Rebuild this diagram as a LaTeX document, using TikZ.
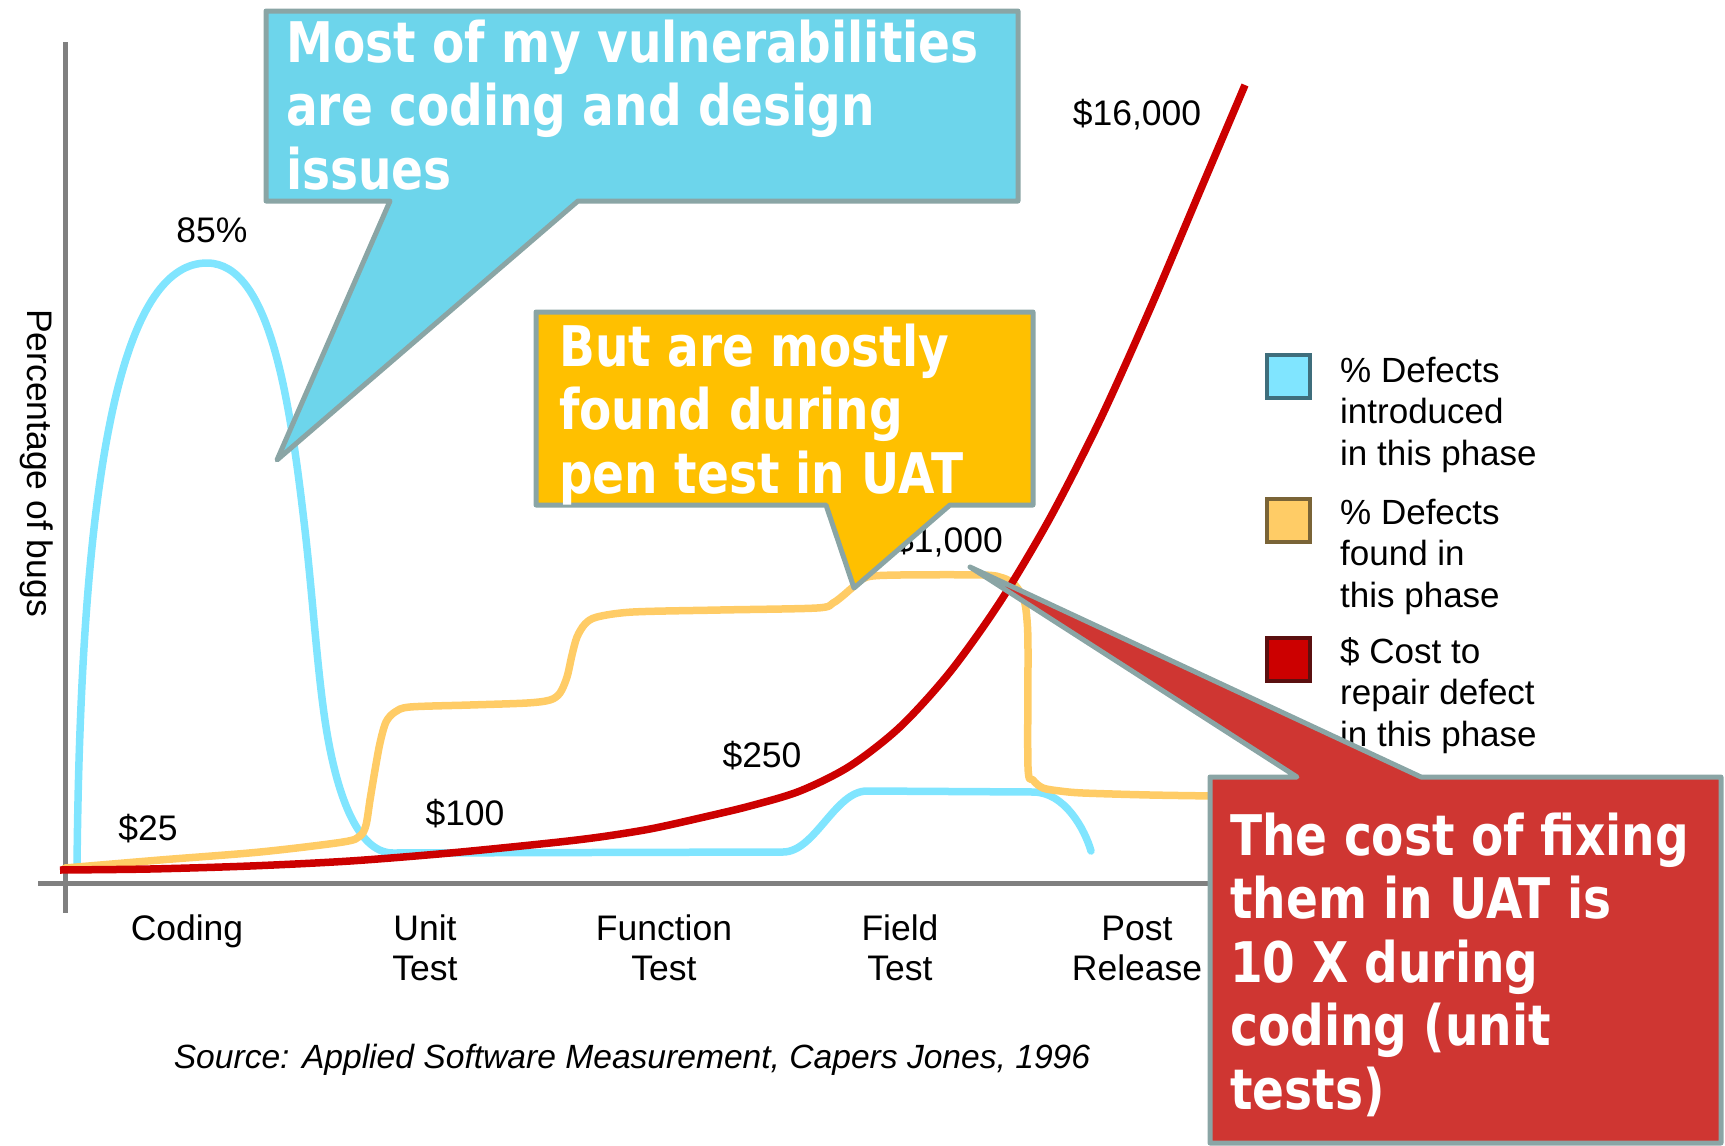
\documentclass[tikz,border=0pt]{standalone}
\usepackage{fontspec}
\setmainfont{Liberation Sans}
\newfontfamily\calloutfont{DejaVu Sans}[FakeStretch=0.84]

\definecolor{axisgray}{HTML}{808080}
\definecolor{introcyan}{HTML}{80E5FF}
\definecolor{foundamber}{HTML}{FFCC66}
\definecolor{costred}{HTML}{CC0000}
\definecolor{introedge}{HTML}{3F6E7C}
\definecolor{foundedge}{HTML}{7A6437}
\definecolor{costedge}{HTML}{5A1010}
\definecolor{calloutedge}{HTML}{8AA5A5}
\definecolor{calloutcyan}{HTML}{6DD5EB}
\definecolor{calloutamber}{HTML}{FFC000}
\definecolor{calloutred}{HTML}{CF3632}

% two centred lines sharing one baseline grid
\newcommand\centredlines[1]{\vtop{\halign{\hfil##\hfil\cr#1\crcr}}}

\tikzset{
  axisline/.style={draw=axisgray, line width=5pt},
  curve/.style={line width=7.5pt, line join=round, line cap=round},
  chartlabel/.style={inner sep=0pt, font=\fontsize{35.5}{40}\selectfont},
  legendtext/.style={inner sep=0pt, anchor=base west, font=\fontsize{35}{41.5}\selectfont},
  legendkey/.style={draw, line width=4pt, minimum size=43pt, inner sep=0pt},
  calloutshape/.style={draw=calloutedge, line width=5pt, line join=round},
  callouttext/.style={anchor=base west, inner sep=0pt, text=white,
    font=\calloutfont\bfseries\fontsize{56}{63.5}\selectfont},
}

\begin{document}
\begin{tikzpicture}[x=1pt, y=-1pt]
\useasboundingbox (0,0) rectangle (1725,1146);

% axes
\coordinate (yTop) at (65,42);
\coordinate (yBottom) at (65,913);
\coordinate (xLeft) at (38,883);
\coordinate (xRight) at (1230,883);
\draw[axisline] (yTop) -- (yBottom);
\draw[axisline] (xLeft) -- (xRight);

% % defects introduced per phase
\draw[curve, introcyan]
  (77,868) .. controls (81,430) and (130,263) .. (207,263)
  .. controls (270,263) and (290,400) .. (305,530)
  .. controls (313,600) and (318,680) .. (327,733)
  .. controls (336,786) and (355,853) .. (393,853)
  -- (783,852)
  .. controls (815,852) and (835,791) .. (867,791)
  -- (1033,792)
  .. controls (1065,792) and (1085,830) .. (1091,851);

% % defects found per phase
\draw[curve, foundamber] plot[smooth, tension=0.5] coordinates {
  (65,868) (160,860) (260,852) (343,842) (360,836) (366,825) (370,800)
  (375,770) (380,743) (386,722) (395,712) (410,707) (470,705) (527,703)
  (550,700) (560,693) (567,677) (572,655) (577,637) (585,624) (597,617)
  (633,612) (720,610) (817,608) (833,603) (845,594) (853,587) (867,577)
  (900,575) (983,575) (1003,578) (1015,585) (1024,600) (1027,620)
  (1028,650) (1028,767) (1033,780) (1043,788) (1060,791) (1083,793)
  (1150,795) (1215,796)};

% cost to repair
\draw[curve, costred, line cap=butt] plot[smooth, tension=0.5] coordinates {
  (60,870) (150,869) (250,866) (350,861) (450,853) (550,843) (600,837)
  (650,829) (700,818) (750,806) (800,791) (850,766) (900,727) (950,672)
  (1000,602) (1050,518) (1100,420) (1150,309) (1200,191) (1245,85)};

% value labels
\node[chartlabel, anchor=base] (pctPeak) at (212,242) {85\%};
\node[chartlabel, anchor=base] (costCoding) at (148,840) {\$25};
\node[chartlabel, anchor=base] (costUnit) at (465,825) {\$100};
\node[chartlabel, anchor=base] (costFunction) at (762,767) {\$250};
\node[chartlabel, anchor=base east] (costField) at (1003,552) {\$1,000};
\node[chartlabel, anchor=base] (costPost) at (1137,125) {\$16,000};

% axis titles
\node[chartlabel, rotate=-90] (yTitle) at (37,463) {Percentage of bugs};
\node[chartlabel, anchor=base] (phCoding) at (187,940) {Coding};
\node[chartlabel, anchor=base] (phUnit) at (425,940) {\centredlines{Unit\cr Test}};
\node[chartlabel, anchor=base] (phFunction) at (664,940) {\centredlines{Function\cr Test}};
\node[chartlabel, anchor=base] (phField) at (900,940) {\centredlines{Field\cr Test}};
\node[chartlabel, anchor=base] (phPost) at (1137,940) {\centredlines{Post\cr Release}};

\node[chartlabel, anchor=base, font=\fontsize{33.6}{40}\selectfont\itshape] (source) at (632,1068)
  {Source: Applied Software Measurement, Capers Jones, 1996};

% legend
\node[legendkey, fill=introcyan, draw=introedge] (keyIntro) at (1288,376) {};
\node[legendkey, fill=foundamber, draw=foundedge] (keyFound) at (1288,520) {};
\node[legendkey, fill=costred, draw=costedge] (keyCost) at (1288,659) {};
\node[legendtext] (txtIntro) at (1340,382)
  {\vtop{\hbox{\% Defects}\hbox{introduced}\hbox{in this phase}}};
\node[legendtext] (txtFound) at (1340,524)
  {\vtop{\hbox{\% Defects}\hbox{found in}\hbox{this phase}}};
\node[legendtext] (txtCost) at (1340,663)
  {\vtop{\hbox{\$ Cost to}\hbox{repair defect}\hbox{in this phase}}};

% callouts
\draw[calloutshape, fill=calloutcyan]
  (266,11) -- (1018,11) -- (1018,201) -- (578,201) -- (277,460)
  -- (390,201) -- (266,201) -- cycle;
\node[callouttext] (noteCoding) at (286,62)
  {\vtop{\hbox{Most of my vulnerabilities}\hbox{are coding and design}\hbox{issues}}};

\draw[calloutshape, fill=calloutamber]
  (536,312) -- (1033,312) -- (1033,505) -- (950,505) -- (854,588)
  -- (826,505) -- (536,505) -- cycle;
\node[callouttext] (notePen) at (559,366)
  {\vtop{\hbox{But are mostly}\hbox{found during}\hbox{pen test in UAT}}};

\draw[calloutshape, fill=calloutred]
  (1210,777) -- (1297,777) -- (970,567) -- (1421,777) -- (1721,777)
  -- (1721,1143) -- (1210,1143) -- cycle;
\node[callouttext] (noteCost) at (1230,855)
  {\vtop{\hbox{The cost of fixing}\hbox{them in UAT is}\hbox{10 X during}\hbox{coding (unit}\hbox{tests)}}};

\end{tikzpicture}
\end{document}
